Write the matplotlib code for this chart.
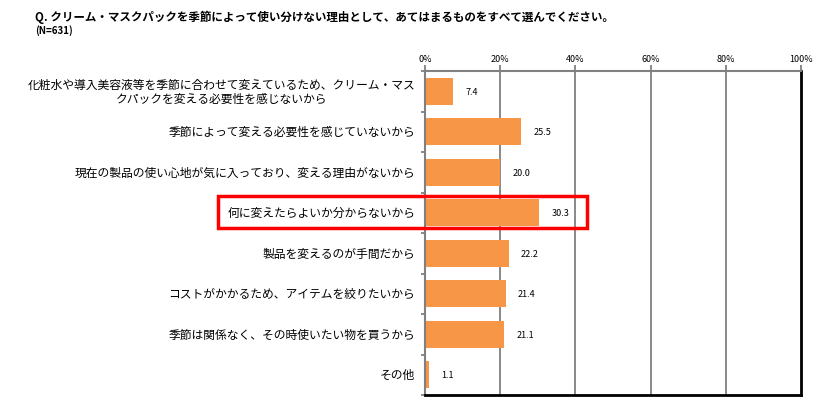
import numpy as np
import matplotlib.pyplot as plt
from matplotlib.patches import Rectangle

plt.rcParams["font.family"] = ["Noto Sans CJK JP", "DejaVu Sans"]

TITLE = "Q. クリーム・マスクパックを季節によって使い分けない理由として、あてはまるものをすべて選んでください。"
SUBTITLE = "(N=631)"

categories = [
    "化粧水や導入美容液等を季節に合わせて変えているため、クリーム・マス\nクパックを変える必要性を感じないから",
    "季節によって変える必要性を感じていないから",
    "現在の製品の使い心地が気に入っており、変える理由がないから",
    "何に変えたらよいか分からないから",
    "製品を変えるのが手間だから",
    "コストがかかるため、アイテムを絞りたいから",
    "季節は関係なく、その時使いたい物を買うから",
    "その他",
]
values = [7.4, 25.5, 20.0, 30.3, 22.2, 21.4, 21.1, 1.1]
ticks = [0, 20, 40, 60, 80, 100]
tick_labels = ["0%", "20%", "40%", "60%", "80%", "100%"]
highlight = 3

BAR_COLOR = "#F79646"
GRID_COLOR = "#808080"

fig = plt.figure(figsize=(8.25, 4.06), dpi=100)
ax = fig.add_axes([0.5152, 0.0246, 0.4558, 0.798])

n = len(categories)
y = np.arange(n)
ax.barh(y, values, height=0.66, color=BAR_COLOR, zorder=2)

for yi, v in zip(y, values):
    ax.annotate(f"{v:.1f}", (v, yi), xytext=(9, 0), textcoords="offset points",
                ha="left", va="center", fontsize=6.5, color="black")

ax.set_xlim(0, 100)
ax.set_ylim(n - 0.5, -0.5)
ax.set_xticks(ticks)
ax.set_xticklabels(tick_labels, fontsize=6.5)
ax.xaxis.tick_top()
ax.tick_params(axis="x", which="major", direction="out", length=4, width=1.3,
               color=GRID_COLOR, pad=2)
for t in ticks[1:-1]:
    ax.axvline(t, color=GRID_COLOR, lw=1.3, zorder=1)

ax.set_yticks(y)
ax.set_yticklabels([])
ax.tick_params(axis="y", which="major", length=0)
ax.set_yticks(np.arange(n + 1) - 0.5, minor=True)
ax.tick_params(axis="y", which="minor", direction="out", length=3, width=1.3,
               color=GRID_COLOR)

ax.spines["top"].set_color(GRID_COLOR)
ax.spines["top"].set_linewidth(1.5)
ax.spines["left"].set_color(GRID_COLOR)
ax.spines["left"].set_linewidth(1.5)
ax.spines["right"].set_color("black")
ax.spines["right"].set_linewidth(2)
ax.spines["bottom"].set_color("black")
ax.spines["bottom"].set_linewidth(2)

# category labels, right aligned left of the axis
for yi, label in zip(y, categories):
    ax.annotate(label, (0, yi), xytext=(-7, 0), textcoords="offset points",
                ha="right", va="center", fontsize=8.5, multialignment="center",
                linespacing=1.1, annotation_clip=False)

# red highlight box around one row
fig_w, fig_h = 825, 406
rect = Rectangle((218 / fig_w, 1 - 229 / fig_h), (587 - 218) / fig_w, (229 - 197) / fig_h,
                 transform=fig.transFigure, fill=False, edgecolor="#FF0000",
                 linewidth=2.5, zorder=5)
fig.patches.append(rect)

fig.text(35 / fig_w, 1 - 17 / fig_h, TITLE, fontsize=8.3, fontweight="bold",
         ha="left", va="center")
fig.text(35 / fig_w, 1 - 31 / fig_h, SUBTITLE, fontsize=7, fontweight="bold",
         ha="left", va="center")

fig.savefig("out.png", dpi=100, facecolor="white")
